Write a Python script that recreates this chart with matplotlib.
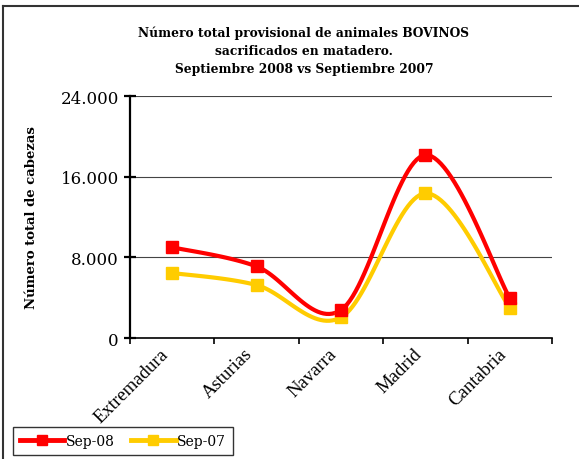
"""Cattle slaughtered by region, Sep 2008 vs Sep 2007."""

import numpy as np
import matplotlib
matplotlib.use("Agg")
import matplotlib.pyplot as plt
from matplotlib.lines import Line2D
from matplotlib.transforms import ScaledTranslation

regions = ["Extremadura", "Asturias", "Navarra", "Madrid", "Cantabria"]
sep_08 = [9000, 7100, 2780, 18150, 3940]
sep_07 = [6450, 5250, 2050, 14350, 2980]
y_ticks = [0, 8000, 16000, 24000]
y_tick_labels = ["0", "8.000", "16.000", "24.000"]

title = ("Número total provisional de animales BOVINOS\n"
         "sacrificados en matadero.\n"
         "Septiembre 2008 vs Septiembre 2007")


def smooth(xs, ys, n=30):
    # Excel-like smoothed line: Catmull-Rom through the points as cubic Beziers
    xs = np.asarray(xs, float)
    ys = np.asarray(ys, float)
    px = np.concatenate([[xs[0]], xs, [xs[-1]]])
    py = np.concatenate([[ys[0]], ys, [ys[-1]]])
    t = np.linspace(0, 1, n)
    out_x, out_y = [], []
    for i in range(1, len(px) - 2):
        p0 = np.array([px[i], py[i]])
        p3 = np.array([px[i + 1], py[i + 1]])
        c1 = p0 + (p3 - np.array([px[i - 1], py[i - 1]])) / 6
        c2 = p3 - (np.array([px[i + 2], py[i + 2]]) - p0) / 6
        seg = ((1 - t) ** 3)[:, None] * p0 + (3 * (1 - t) ** 2 * t)[:, None] * c1 \
            + (3 * (1 - t) * t ** 2)[:, None] * c2 + (t ** 3)[:, None] * p3
        out_x.extend(seg[:, 0])
        out_y.extend(seg[:, 1])
    return out_x, out_y


plt.rcParams["font.family"] = "DejaVu Serif"

fig = plt.figure(figsize=(5.79, 4.6), dpi=100)
# outer frame (only top and left edges fall inside the picture)
fig.add_artist(Line2D([0.006, 1.0], [0.985, 0.985], transform=fig.transFigure,
                      color="#333333", linewidth=1.5))
fig.add_artist(Line2D([0.006, 0.006], [0.0, 0.985], transform=fig.transFigure,
                      color="#333333", linewidth=1.5))

ax = fig.add_axes([0.2245, 0.263, 0.729, 0.526])
x = np.arange(len(regions))

series = [(sep_08, "#FF0000", "Sep-08"), (sep_07, "#FFCC00", "Sep-07")]
handles = []
for vals, color, label in series[::-1]:
    sx, sy = smooth(x, vals)
    ax.plot(sx, sy, color=color, linewidth=3, solid_capstyle="round", zorder=3)
    ax.plot(x, vals, linestyle="none", marker="s", markersize=8,
            color=color, zorder=4)
for vals, color, label in series:
    h, = ax.plot([], [], color=color, linewidth=3.5, marker="s", markersize=7,
                 label=label)
    handles.append(h)

ax.set_xlim(-0.5, len(regions) - 0.5)
ax.set_ylim(0, 24000)
ax.set_yticks(y_ticks)
ax.set_yticklabels(y_tick_labels, fontsize=12)
ax.yaxis.grid(True, color="#444444", linewidth=0.8)
ax.set_axisbelow(True)

# category labels drawn as rotated text just under the axis
ax.set_xticks(x)
ax.set_xticklabels([])
label_tr = ax.get_xaxis_transform() + ScaledTranslation(-9 / 72, -5 / 72,
                                                        fig.dpi_scale_trans)
for xi, name in zip(x, regions):
    ax.text(xi, 0, name, transform=label_tr, rotation=45, ha="right",
            va="top", rotation_mode="anchor", fontsize=13.5,
            family="Liberation Serif")
ax.set_xticks(np.arange(-0.5, len(regions)), minor=True)
ax.tick_params(axis="x", which="major", length=0)
ax.tick_params(axis="x", which="minor", length=4, width=1.2, color="black")
ax.tick_params(axis="y", direction="inout", length=9, width=1.6)

for side in ["top", "right"]:
    ax.spines[side].set_visible(False)
ax.spines["left"].set_linewidth(1.6)
ax.spines["bottom"].set_linewidth(1.2)

ax.set_ylabel("Número total de cabezas", fontsize=9.5, fontweight="bold",
              labelpad=16)

fig.text(0.525, 0.942, title, ha="center", va="top", fontsize=8.8,
         fontweight="bold", linespacing=1.5)

fig.legend(handles=handles, loc="lower left", bbox_to_anchor=(0.022, 0.009),
           borderaxespad=0, ncol=2, frameon=True, fancybox=False,
           edgecolor="black", fontsize=10, handlelength=3.2,
           handletextpad=0.1, columnspacing=1.2, borderpad=0.5)

fig.savefig("out.png", dpi=100)
plt.close(fig)
